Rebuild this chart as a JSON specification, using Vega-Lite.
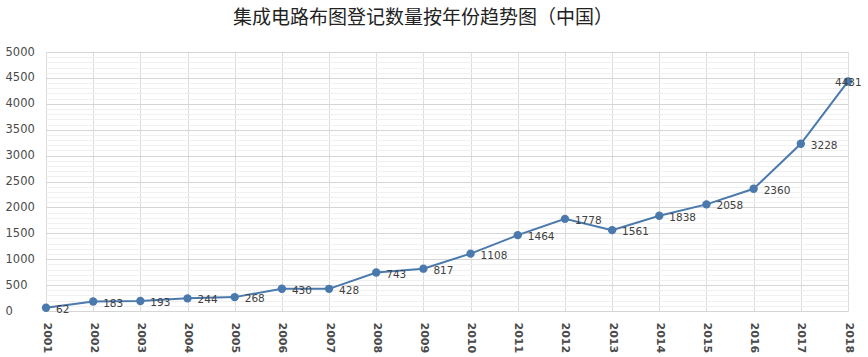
{
  "$schema": "https://vega.github.io/schema/vega-lite/v6.json",
  "autosize": "none",
  "width": 802,
  "height": 259,
  "padding": {"left": 46, "top": 52, "right": 20, "bottom": 46},
  "background": "white",
  "title": {
    "text": "集成电路布图登记数量按年份趋势图（中国）",
    "font": "Noto Sans CJK SC",
    "fontSize": 19,
    "fontWeight": "normal",
    "color": "#222222",
    "anchor": "middle",
    "dx": -24,
    "offset": 18
  },
  "config": {
    "view": {"stroke": null},
    "axis": {"labelFont": "DejaVu Sans", "labelColor": "#4a4a4a", "domain": false, "ticks": false}
  },
  "data": {
    "values": [
      {"year": "2001", "count": 62},
      {"year": "2002", "count": 183},
      {"year": "2003", "count": 193},
      {"year": "2004", "count": 244},
      {"year": "2005", "count": 268},
      {"year": "2006", "count": 430},
      {"year": "2007", "count": 428},
      {"year": "2008", "count": 743},
      {"year": "2009", "count": 817},
      {"year": "2010", "count": 1108},
      {"year": "2011", "count": 1464},
      {"year": "2012", "count": 1778},
      {"year": "2013", "count": 1561},
      {"year": "2014", "count": 1838},
      {"year": "2015", "count": 2058},
      {"year": "2016", "count": 2360},
      {"year": "2017", "count": 3228},
      {"year": "2018", "count": 4431}
    ]
  },
  "encoding": {
    "x": {
      "field": "year",
      "type": "ordinal",
      "scale": {"type": "point", "padding": 0},
      "axis": {
        "title": null,
        "labelAngle": 90,
        "labelAlign": "left",
        "labelBaseline": "middle",
        "labelPadding": 11,
        "labelFontSize": 11,
        "labelFontWeight": "bold",
        "grid": true,
        "gridColor": "#dcdcdc",
        "labelOverlap": false
      }
    },
    "y": {
      "field": "count",
      "type": "quantitative",
      "scale": {"domain": [0, 5000], "nice": false},
      "axis": {
        "title": null,
        "values": [0,100,200,300,400,500,600,700,800,900,1000,1100,1200,1300,1400,1500,1600,1700,1800,1900,2000,2100,2200,2300,2400,2500,2600,2700,2800,2900,3000,3100,3200,3300,3400,3500,3600,3700,3800,3900,4000,4100,4200,4300,4400,4500,4600,4700,4800,4900,5000],
        "labelExpr": "datum.value % 500 === 0 ? datum.label : ''",
        "labelAlign": "left",
        "labelPadding": 41,
        "labelFontSize": 11.5,
        "labelOverlap": false,
        "format": "d",
        "grid": true,
        "gridColor": {"condition": {"test": "datum.value % 500 === 0", "value": "#d6d6d6"}, "value": "#f0f0f0"}
      }
    }
  },
  "layer": [
    {"mark": {"type": "line", "color": "#4a79ad", "strokeWidth": 2}},
    {"mark": {"type": "point", "filled": true, "color": "#4a79ad", "size": 70, "opacity": 1}},
    {
      "transform": [{"filter": "datum.year !== '2018'"}],
      "mark": {"type": "text", "align": "left", "baseline": "middle", "dx": 10, "dy": 2, "font": "DejaVu Sans", "fontSize": 10.5, "color": "#404040"},
      "encoding": {"text": {"field": "count", "type": "quantitative", "format": "d"}}
    },
    {
      "transform": [{"filter": "datum.year === '2018'"}],
      "mark": {"type": "text", "align": "left", "baseline": "middle", "dx": -13, "dy": 2, "font": "DejaVu Sans", "fontSize": 10.5, "color": "#404040"},
      "encoding": {"text": {"field": "count", "type": "quantitative", "format": "d"}}
    }
  ]
}
